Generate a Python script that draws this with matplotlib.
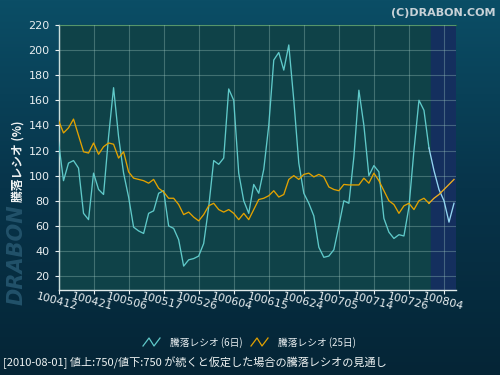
import matplotlib.pyplot as plt
import numpy as np
from matplotlib.colors import LinearSegmentedColormap
from matplotlib.lines import Line2D

plt.rcParams["font.family"] = ["Noto Sans CJK JP", "DejaVu Sans"]

# Trading-day tick labels (every 7 sessions, yymmdd)
tick_labels = [
    "100412", "100421", "100506", "100517", "100526", "100604",
    "100615", "100624", "100705", "100714", "100726", "100804",
]

# 騰落レシオ (6日) - one value per trading day, last 5 are the forecast
ratio_6d = [
    127, 96, 110, 112, 106, 70, 65, 102, 89, 85,
    131, 170, 131, 102, 83, 59, 56, 54, 70, 72,
    86, 88, 60, 58, 49, 28, 33, 34, 36, 46,
    75, 112, 109, 114, 169, 160, 102, 80, 70, 93,
    86, 105, 140, 192, 198, 184, 204, 160, 110, 86,
    78, 68, 43, 35, 36, 41, 60, 80, 78, 115,
    168, 140, 100, 108, 103, 66, 55, 50, 53, 52,
    75, 120, 160, 152, 122, 104, 89, 80, 63, 78,
]

# 騰落レシオ (25日)
ratio_25d = [
    144, 134, 138, 145, 132, 119, 118, 126, 117, 123,
    126, 125, 114, 119, 103, 98, 97, 96, 94, 97,
    90, 87, 82, 82, 77, 69, 71, 67, 64, 69,
    76, 78, 73, 71, 73, 70, 65, 70, 65, 73,
    81, 82, 84, 88, 83, 85, 97, 100, 97, 101,
    102, 99, 101, 99, 91, 89, 88, 93, 92.6, 92.6,
    92.6, 98, 94, 102, 96, 88, 80, 77, 70, 76,
    78, 73, 80, 82, 78, 82, 85, 89, 93, 97,
]

last_actual = 74  # 100730, everything after is the projection

x = np.arange(len(ratio_6d))
fig = plt.figure(figsize=(5, 3.75), dpi=100)

# Background gradient
bg = fig.add_axes([0, 0, 1, 1], zorder=-10)
bg_cmap = LinearSegmentedColormap.from_list("bg", ["#0b4e66", "#07344a", "#052536"])
bg.imshow(np.linspace(0, 1, 256).reshape(-1, 1), cmap=bg_cmap, aspect="auto",
          extent=[0, 1, 0, 1])
bg.set_axis_off()

# Watermark on the left, below the axis title and clear of the tick labels
fig.text(0.034, 0.322, "DRABON", rotation=90, fontsize=15, fontweight="bold",
         fontstyle="italic", color="#22526a", ha="center", va="center",
         family="DejaVu Sans")

ax = fig.add_axes([0.117, 0.2267, 0.795, 0.707])
ax.set_facecolor("#0f4248")
ax.axvspan(last_actual + 0.4, 80, color="#142f5e", zorder=0.5)

ax.plot(x[:last_actual + 1], ratio_6d[:last_actual + 1], color="#5fc9c9", lw=0.95, zorder=3)
ax.plot(x[last_actual:], ratio_6d[last_actual:], color="#94d6f2", lw=0.95, zorder=3)
ax.plot(x[:last_actual + 1], ratio_25d[:last_actual + 1], color="#e3a200", lw=0.95, zorder=3)
ax.plot(x[last_actual:], ratio_25d[last_actual:], color="#f0ae20", lw=0.95, zorder=3)

ax.set_xlim(0, 79.4)
ax.set_ylim(9, 220)
ax.set_yticks(np.arange(20, 221, 20))
ax.set_xticks(np.arange(0, 7 * len(tick_labels), 7))
ax.set_xticklabels(tick_labels, rotation=-15, ha="center", va="top",
                   rotation_mode="anchor", family="DejaVu Sans")
for lab in ax.get_yticklabels():
    lab.set_family("DejaVu Sans")
ax.grid(True, color="#a0c8c0", alpha=0.35, lw=0.8, zorder=1)
ax.set_axisbelow(False)
ax.tick_params(colors="#e8eef0", labelsize=8, length=3, width=0.8)
ax.tick_params(axis="x", pad=2)

for side in ["left", "bottom"]:
    ax.spines[side].set_color("#e0eaea")
    ax.spines[side].set_linewidth(1.0)
ax.spines["top"].set_color("#2f7a3c")
ax.spines["right"].set_visible(False)

fig.text(0.036, 0.57, "騰落レシオ (%)", rotation=90, fontsize=8.5, fontweight="bold",
         color="#f0f4f4", ha="center", va="center")
fig.text(0.992, 0.978, "(C)DRABON.COM", fontsize=8, fontweight="bold",
         color="#c8d2d8", ha="right", va="top", family="DejaVu Sans")

# Legend
def legend_icon(x0, color):
    xs = [x0, x0 + 6, x0 + 11, x0 + 17]
    ys = [346, 338, 346, 338]
    fig.add_artist(Line2D([v / 500 for v in xs], [1 - v / 375 for v in ys],
                          transform=fig.transFigure, color=color, lw=0.9))

legend_icon(143, "#5fc9c9")
fig.text(170 / 500, 1 - 343 / 375, "騰落レシオ (6日)", fontsize=7, color="#e8eef0",
         va="center")
legend_icon(251, "#e3a200")
fig.text(278 / 500, 1 - 343 / 375, "騰落レシオ (25日)", fontsize=7, color="#e8eef0",
         va="center")

fig.text(0.006, 1 - 363 / 375,
         "[2010-08-01] 値上:750/値下:750 が続くと仮定した場合の騰落レシオの見通し",
         fontsize=8, color="#f0f4f4", va="center")

fig.savefig("out.png", dpi=100)
